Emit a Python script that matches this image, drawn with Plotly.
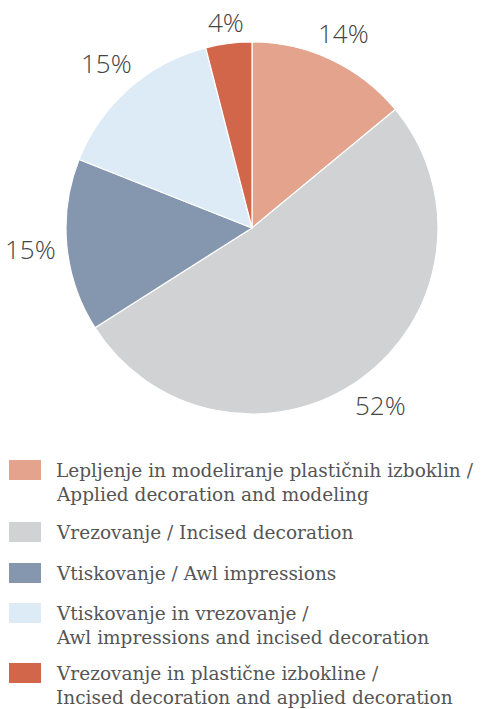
import math
import plotly.graph_objects as go

labels = [
    "Lepljenje in modeliranje plastičnih izboklin / Applied decoration and modeling",
    "Vrezovanje / Incised decoration",
    "Vtiskovanje / Awl impressions",
    "Vtiskovanje in vrezovanje / Awl impressions and incised decoration",
    "Vrezovanje in plastične izbokline / Incised decoration and applied decoration",
]
legend_lines = [
    ["Lepljenje in modeliranje plastičnih izboklin /", "Applied decoration and modeling"],
    ["Vrezovanje / Incised decoration"],
    ["Vtiskovanje / Awl impressions"],
    ["Vtiskovanje in vrezovanje /", "Awl impressions and incised decoration"],
    ["Vrezovanje in plastične izbokline /", "Incised decoration and applied decoration"],
]
values = [14, 52, 15, 15, 4]
colors = ["#E3A38C", "#D1D2D4", "#8497AF", "#DDEBF7", "#D2664A"]

W, H = 482, 709
cx, cy, r = 252, 228, 186

fig = go.Figure()
fig.add_trace(go.Pie(
    labels=labels, values=values, sort=False, direction="clockwise", rotation=0,
    marker=dict(colors=colors, line=dict(color="white", width=1.2)),
    textinfo="none",
    domain=dict(x=[(cx - r) / W, (cx + r) / W], y=[(H - cy - r) / H, (H - cy + r) / H]),
    showlegend=False, hoverinfo="label+percent",
))

annotations = []
# percentage labels placed just outside each slice, derived from the values
total = sum(values)
cum = 0
for v in values:
    mid = (cum + v / 2) / total * 2 * math.pi
    cum += v
    txt = f"{v}%"
    hw = 9 * len(txt)   # approx half text width
    hh = 10             # approx half text height
    s, c = math.sin(mid), math.cos(mid)
    R = r + 9 + abs(s) * hw + abs(c) * hh
    px = cx + R * s
    py = cy - R * c
    annotations.append(dict(text=txt, xref="paper", yref="paper",
                            x=px / W, y=1 - py / H, xanchor="center", yanchor="middle",
                            showarrow=False,
                            font=dict(family="Open Sans, Lato, sans-serif", size=26,
                                      color="#444444", weight=300)))

# legend drawn below the pie
item_tops = [460, 522, 563, 603, 663]
line_gap = 24
shapes = []
for i, (lines, col) in enumerate(zip(legend_lines, colors)):
    top = item_tops[i]
    shapes.append(dict(type="rect", xref="paper", yref="paper",
                       x0=9 / W, x1=41 / W, y0=1 - (top + 20) / H, y1=1 - top / H,
                       fillcolor=col, line=dict(width=0)))
    for j, txt in enumerate(lines):
        yc = top + 10 + j * line_gap
        annotations.append(dict(text=txt, xref="paper", yref="paper",
                                x=54 / W, y=1 - yc / H, xanchor="left", yanchor="middle",
                                showarrow=False,
                                font=dict(family="DejaVu Serif, Georgia, serif", size=18.5, color="#555555")))

fig.update_layout(
    width=W, height=H, margin=dict(l=0, r=0, t=0, b=0),
    paper_bgcolor="white", plot_bgcolor="white",
    shapes=shapes, annotations=annotations,
)
fig.write_html("out.html", config={"displayModeBar": False},
               post_script="document.body.style.margin='0';document.body.style.overflow='hidden';")
